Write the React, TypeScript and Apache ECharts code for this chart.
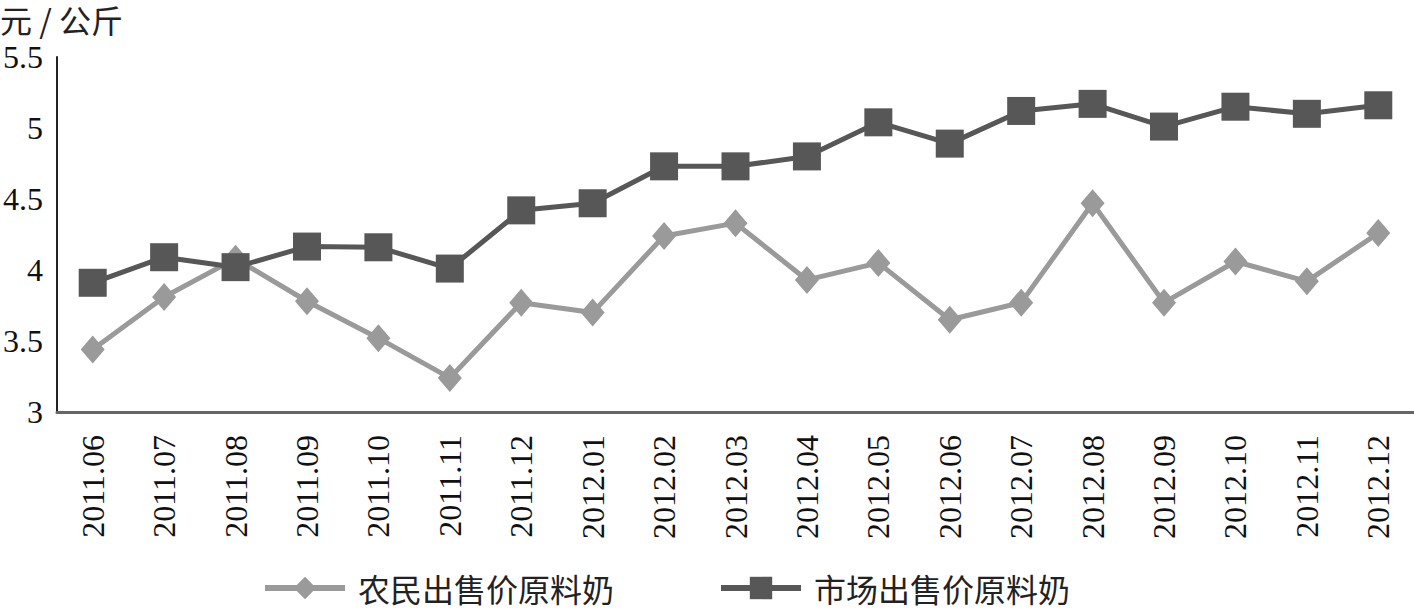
import React, { useEffect, useRef } from "react";
import * as echarts from "echarts";

const categories = [
  "2011.06", "2011.07", "2011.08", "2011.09", "2011.10", "2011.11", "2011.12",
  "2012.01", "2012.02", "2012.03", "2012.04", "2012.05", "2012.06", "2012.07",
  "2012.08", "2012.09", "2012.10", "2012.11", "2012.12",
];
const farmerPrice = [
  3.44, 3.81, 4.08, 3.78, 3.52, 3.24, 3.77, 3.70, 4.24, 4.33, 3.93, 4.05,
  3.65, 3.77, 4.47, 3.77, 4.06, 3.92, 4.26,
];
const marketPrice = [
  3.91, 4.09, 4.02, 4.165, 4.16, 4.01, 4.42, 4.47, 4.73, 4.73, 4.80, 5.04,
  4.89, 5.12, 5.17, 5.01, 5.15, 5.10, 5.16,
];
const seriesNames = ["农民出售价原料奶", "市场出售价原料奶"];
const yTicks = { min: 3, max: 5.5, interval: 0.5 };
const unitLabel = "元 / 公斤";

const SERIF = "'Liberation Serif', 'Times New Roman', 'Noto Sans CJK SC', serif";
const CJK = "Noto Sans CJK SC";

export default function App() {
  const ref = useRef<HTMLDivElement>(null);
  useEffect(() => {
    document.body.style.margin = "0";
    const chart = echarts.init(ref.current!, null, { renderer: "svg" });
    chart.setOption({
      animation: false,
      backgroundColor: "#ffffff",
      title: {
        text: unitLabel,
        left: 0,
        top: 2,
        padding: 0,
        textStyle: { fontFamily: CJK, fontSize: 32, fontWeight: "normal", color: "#222", lineHeight: 34 },
      },
      grid: { left: 54, right: 0, top: 57, bottom: 197 },
      legend: {
        bottom: 4,
        left: 262,
        padding: 0,
        itemGap: 104,
        itemWidth: 80,
        itemHeight: 28,
        lineStyle: { width: 6 },
        textStyle: {
          fontFamily: CJK,
          fontSize: 32,
          lineHeight: 34,
          color: "#222",
          padding: [0, 0, 0, 8],
        },
        data: seriesNames,
      },
      xAxis: {
        type: "category",
        data: categories,
        boundaryGap: true,
        axisLine: { lineStyle: { color: "#666", width: 3 } },
        axisTick: { show: false },
        axisLabel: {
          interval: 0,
          rotate: 90,
          margin: 23,
          fontFamily: SERIF,
          fontSize: 32,
          color: "#111",
        },
      },
      yAxis: {
        type: "value",
        min: yTicks.min,
        max: yTicks.max,
        interval: yTicks.interval,
        axisLine: { show: true, lineStyle: { color: "#222", width: 2 } },
        axisTick: { show: false },
        splitLine: { show: false },
        axisLabel: {
          margin: 14,
          fontFamily: SERIF,
          fontSize: 32,
          color: "#111",
          formatter: (v: number) => String(v),
        },
      },
      series: [
        {
          name: seriesNames[0],
          type: "line",
          data: farmerPrice,
          symbol: "diamond",
          symbolSize: [24, 28],
          lineStyle: { color: "#9a9a9a", width: 5 },
          itemStyle: { color: "#9a9a9a" },
          z: 2,
        },
        {
          name: seriesNames[1],
          type: "line",
          data: marketPrice,
          symbol: "rect",
          symbolSize: 28,
          lineStyle: { color: "#575757", width: 5 },
          itemStyle: { color: "#575757" },
          z: 3,
        },
      ],
    });
    return () => chart.dispose();
  }, []);
  return <div ref={ref} style={{ width: 1414, height: 609 }} />;
}
